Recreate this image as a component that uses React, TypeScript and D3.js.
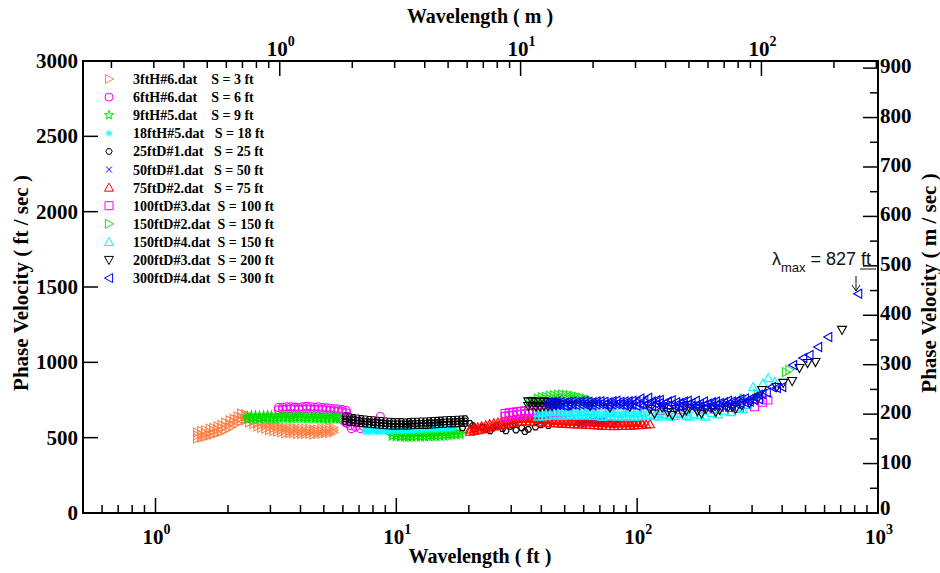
import React from 'react';
import * as d3 from 'd3';

const W = 940;
const H = 573;
const M_PER_FT = 0.3048;
const SERIF = "'Liberation Serif','Times New Roman',serif";
const SANS = "'Liberation Sans',Arial,sans-serif";

// Legend labels (spaces pad the "S = ..." part as in the original)
const seriesLabels = [
  '3ftH#6.dat    S = 3 ft',
  '6ftH#6.dat    S = 6 ft',
  '9ftH#5.dat    S = 9 ft',
  '18ftH#5.dat   S = 18 ft',
  '25ftD#1.dat   S = 25 ft',
  '50ftD#1.dat   S = 50 ft',
  '75ftD#2.dat   S = 75 ft',
  '100ftD#3.dat  S = 100 ft',
  '150ftD#2.dat  S = 150 ft',
  '150ftD#4.dat  S = 150 ft',
  '200ftD#3.dat  S = 200 ft',
  '300ftD#4.dat  S = 300 ft',
];
const seriesColors = ['#ff7f45', '#ff00ff', '#00e000', '#00ffff', '#000000', '#0000ff', '#ff0000', '#ff00ff', '#20e020', '#00ffff', '#000000', '#0000ff'];
const seriesShapes = ['triRight', 'circle', 'star', 'asterisk', 'hexagon', 'cross', 'triUp', 'square', 'triRight', 'triUp', 'triDown', 'triLeft'];

// Each row: [wavelength (ft), phase velocity (ft/s) at that wavelength, ...]
const s3ftH6: number[][] = [
  [1.49, 495, 515, 535], [1.55, 500, 520, 545], [1.61, 505, 530, 550], [1.68, 515, 535, 560], [1.74, 520, 545, 565],
  [1.81, 530, 555, 575], [1.88, 540, 565, 585], [1.95, 550, 575, 600], [2.03, 565, 590, 615], [2.11, 580, 605, 625],
  [2.19, 595, 620, 640], [2.27, 610, 635, 660], [2.36, 615, 640, 655], [2.45, 600, 625, 645], [2.55, 590, 610, 630],
  [2.65, 575, 595, 620], [2.75, 565, 585, 605], [2.86, 560, 580, 595], [2.97, 550, 570, 590], [3.09, 545, 565, 585],
  [3.21, 540, 560, 575], [3.33, 535, 555, 570], [3.46, 530, 550, 565], [3.60, 530, 545, 565], [3.74, 530, 550, 565],
  [3.88, 525, 545, 560], [4.03, 525, 545, 560], [4.19, 525, 540, 560], [4.36, 525, 545, 560], [4.53, 520, 540, 555],
  [4.70, 525, 540, 555], [4.89, 525, 545, 560], [5.08, 530, 545, 560], [5.27, 530, 550, 565], [5.48, 535, 550, 565],
];
const s6ftH6: number[][] = [
  [3.24, 685, 700], [3.37, 688, 702], [3.50, 690, 705], [3.64, 692, 705], [3.78, 690, 703], [3.93, 688, 700],
  [4.08, 690, 705], [4.24, 692, 708], [4.40, 690, 705], [4.57, 688, 702], [4.75, 690, 705], [4.93, 686, 700],
  [5.12, 684, 698], [5.32, 680, 695], [5.53, 678, 692], [5.74, 676, 690], [5.96, 672, 686], [6.2, 665, 680],
  [6.0, 615], [6.14, 600], [6.25, 595], [6.3, 640], [6.44, 580], [6.5, 560], [6.6, 620], [6.76, 570],
  [6.95, 610], [7.09, 560], [7.3, 575], [7.66, 590], [8.18, 600], [8.58, 640],
];
const s9ftH5: number[][] = [
  [2.41, 625, 640], [2.50, 628, 645], [2.60, 630, 645], [2.70, 628, 643], [2.81, 630, 645], [2.92, 632, 647],
  [3.03, 630, 645], [3.15, 628, 643], [3.27, 630, 645], [3.40, 632, 648], [3.53, 630, 645], [3.67, 628, 643],
  [3.81, 630, 646], [3.96, 632, 648], [4.11, 630, 645], [4.27, 628, 643], [4.44, 630, 645], [4.61, 628, 644],
  [4.79, 626, 642], [4.98, 625, 640], [5.17, 624, 638], [5.37, 625, 640], [5.58, 626, 640], [5.80, 624, 638],
  [9.6, 510, 528], [9.97, 508, 525], [10.4, 505, 522], [10.8, 505, 520], [11.2, 503, 520], [11.6, 505, 522],
  [12.1, 507, 525], [12.6, 505, 523], [13.1, 506, 524], [13.6, 508, 526], [14.1, 510, 527], [14.6, 508, 525],
  [15.2, 510, 528], [15.8, 513, 530], [16.4, 515, 532], [17.0, 518, 535], [17.7, 520, 537], [18.4, 522, 538],
];
const s18ftH5: number[][] = [
  [7.4, 540, 555], [7.7, 538, 552], [8.0, 540, 553], [8.3, 538, 552], [8.6, 540, 555], [9.0, 538, 552],
  [9.3, 540, 553], [9.7, 540, 555], [10.1, 542, 556], [10.5, 542, 556], [10.9, 543, 557], [11.3, 545, 558],
  [11.8, 545, 560], [12.3, 548, 562], [12.7, 548, 562], [13.2, 550, 563], [13.7, 550, 565], [14.3, 552, 566],
  [14.8, 553, 567], [15.4, 555, 568], [16.0, 556, 570], [16.7, 558, 572], [17.3, 560, 573],
];
const s25ftD1: number[][] = [
  [6.14, 605, 625, 645], [6.38, 600, 620, 640], [6.62, 598, 618, 635], [6.88, 595, 615, 632], [7.15, 592, 610, 628],
  [7.43, 590, 607, 625], [7.72, 588, 605, 622], [8.02, 585, 602, 620], [8.33, 583, 600, 617], [8.66, 580, 598, 615],
  [9.0, 578, 595, 612], [9.35, 576, 593, 610], [9.71, 575, 592, 608], [10.1, 575, 592, 608], [10.5, 576, 592, 608],
  [10.9, 575, 590, 606], [11.3, 576, 592, 608], [11.7, 578, 594, 610], [12.2, 580, 595, 610], [12.7, 580, 596, 612],
  [13.2, 580, 596, 612], [13.7, 582, 598, 614], [14.2, 583, 598, 615], [14.8, 585, 600, 616], [15.3, 586, 602, 618],
  [15.9, 588, 604, 620], [16.6, 590, 606, 622], [17.2, 590, 606, 622], [17.9, 592, 608, 624], [18.6, 593, 610, 625],
  [19.3, 595, 610, 626],
  [18.8, 565], [20.2, 595], [20.8, 580], [21.2, 560], [22.8, 570], [23.5, 555], [24.5, 545], [25.2, 565],
  [26.0, 580], [27.6, 560], [28.5, 545], [29.7, 575], [30.5, 585], [31.4, 550], [33.2, 565], [34.2, 540],
  [35.3, 555], [37.8, 570], [39.9, 585], [42.8, 580],
];
const s50ftD1: number[][] = [
  [56.5, 595, 610], [58.7, 590, 605], [61.0, 598, 612], [63.4, 595, 608], [65.9, 600, 615], [68.5, 592, 606],
  [71.2, 598, 612], [74.0, 600], [76.9, 605], [80.0, 598], [83.2, 603],
];
const s75ftD2: number[][] = [
  [20.2, 540, 555], [21.0, 545, 560], [21.8, 550, 568], [22.6, 555, 575], [23.5, 560, 582], [24.4, 568, 590],
  [25.4, 575, 595], [26.4, 580, 600], [27.4, 585, 605], [28.5, 590, 612], [29.6, 595, 618], [30.8, 600, 622],
  [32.0, 605, 625], [33.2, 608, 628], [34.5, 610, 630], [35.9, 608, 628], [37.3, 605, 625], [38.7, 603, 622],
  [40.2, 600, 620], [41.8, 600, 618], [43.4, 598, 616], [45.1, 596, 614], [46.9, 595, 612], [48.7, 594, 610],
  [50.6, 592, 610], [52.6, 590, 608], [54.6, 590, 608], [56.8, 588, 606], [59.0, 588, 606], [61.3, 586, 605],
  [63.7, 585, 604], [66.2, 584, 602], [68.8, 582, 600], [71.5, 580, 598], [74.3, 578, 596], [77.2, 578, 596],
  [80.2, 576, 594], [83.3, 578, 596], [86.6, 580, 598], [90.0, 578, 596], [93.5, 580, 597], [97.1, 582, 598],
  [101, 584, 600], [105, 586, 600], [109, 588], [113, 590],
];
const s100ftD3: number[][] = [
  [28.3, 640, 660], [29.4, 645, 665], [30.5, 648, 668], [31.7, 652, 672], [32.9, 655, 675], [34.2, 658, 678],
  [35.5, 660, 680], [36.9, 662, 680], [38.4, 665, 682], [39.9, 668, 684], [41.4, 670], [43.0, 668], [44.7, 670],
  [46.4, 668], [48.2, 666], [50.1, 668], [55.3, 670], [63.7, 680], [77.1, 675], [93.2, 670], [108, 675],
  [124, 680], [150, 685], [182, 690], [210, 690], [242, 700], [266, 695], [287, 720], [307, 705], [331, 735],
  [349, 750],
];
const s150ftD2: number[][] = [
  [35.9, 735], [37.3, 740], [38.7, 745, 760], [40.2, 750, 768], [41.8, 755, 772], [43.4, 758, 778],
  [45.1, 760, 782], [46.9, 762, 785], [48.7, 762, 786], [50.6, 760, 785], [52.6, 758, 782], [54.6, 755, 778],
  [56.8, 750, 772], [59.0, 745, 765], [61.3, 742, 758], [63.7, 738, 752], [66.2, 735],
  [182, 710], [220, 725], [277, 760], [317, 790], [415, 935], [429, 950],
];
const s150ftD4: number[][] = [
  [38.9, 640, 665], [40.4, 642, 668], [42.0, 645, 670], [43.6, 648, 672], [45.3, 650, 675], [47.1, 648, 672],
  [48.9, 646, 670], [50.8, 648, 670], [52.8, 650, 670], [54.8, 648, 668], [57.0, 646, 666], [59.2, 648, 668],
  [61.5, 650, 670], [63.9, 648, 668], [66.4, 645, 665], [69.0, 643, 663], [71.7, 640, 660], [74.5, 642, 662],
  [77.4, 645, 665], [80.4, 643, 663], [83.5, 640, 660], [86.8, 642, 662], [90.2, 645, 665], [93.7, 642, 662],
  [97.3, 640, 660], [101, 642, 662], [105, 645, 665], [109, 648], [113, 650], [118, 645], [122, 640, 660],
  [127, 655], [132, 650], [137, 640], [142, 645], [148, 660], [154, 655], [160, 645], [165, 640], [172, 655],
  [182, 650], [192, 640], [204, 665], [216, 655], [231, 680], [245, 670], [261, 700], [275, 690], [287, 720],
  [303, 836], [320, 780], [333, 860], [350, 896], [373, 870],
];
const s200ftD3: number[][] = [
  [35.3, 710, 740], [36.6, 712, 742], [38.0, 705, 735], [39.5, 705, 738], [41.0, 710, 740], [42.6, 708, 735],
  [44.3, 710, 735], [46.0, 715, 730], [47.8, 720], [52.6, 715], [63.7, 710], [77.1, 700], [93.2, 705],
  [113, 690], [118, 660], [127, 700], [134, 670], [140, 650], [144, 690], [154, 665], [160, 680], [165, 695],
  [178, 675], [185, 660], [193, 690], [204, 700], [212, 670], [220, 685], [238, 700], [248, 705], [256, 690],
  [272, 715], [293, 730], [317, 760], [330, 816], [380, 836], [404, 863], [440, 875], [472, 962], [510, 995],
  [550, 1002], [709, 1215],
];
const s300ftD4: number[][] = [
  [42.8, 715, 735], [44.5, 718, 738], [46.2, 720, 740], [48.0, 715, 735], [49.9, 712, 732], [51.8, 718, 738],
  [53.8, 720, 740], [55.9, 716, 736], [58.1, 720, 740], [60.4, 722, 742], [62.7, 718, 738], [65.2, 715, 735],
  [67.7, 720, 740], [70.3, 722, 742], [73.1, 718, 738], [75.9, 716, 736], [78.9, 720, 742], [82.0, 722, 745],
  [85.2, 718, 738], [88.5, 715, 740], [92.0, 720, 742], [95.5, 718, 745], [99.3, 712, 738], [103, 720, 760],
  [107, 715, 745], [111, 725, 765], [115, 710, 740], [120, 720, 748], [124, 730, 750], [129, 705, 725],
  [134, 710, 740], [139, 720, 748], [145, 705, 735], [150, 705, 730], [156, 715, 740], [162, 720, 745],
  [168, 708, 730], [175, 712, 745], [182, 705, 725], [189, 715, 740], [196, 700, 725], [204, 710, 735],
  [212, 715, 740], [220, 705, 730], [229, 710, 735], [238, 720, 745], [247, 715, 740], [258, 725, 745],
  [268, 730, 755], [280, 735, 760], [293, 740, 755], [305, 750, 770], [320, 755, 785], [331, 790], [345, 800],
  [363, 836], [380, 830], [400, 836], [444, 982], [489, 1029], [519, 1049], [564, 1102], [621, 1168], [827, 1455],
];

const seriesData = [s3ftH6, s6ftH6, s9ftH5, s18ftH5, s25ftD1, s50ftD1, s75ftD2, s100ftD3, s150ftD2, s150ftD4, s200ftD3, s300ftD4];

const yLeftTicks = [0, 500, 1000, 1500, 2000, 2500, 3000];
const yRightTicks = [0, 100, 200, 300, 400, 500, 600, 700, 800, 900];

const starPath = d3.symbol(d3.symbolStar, 26)() as string;

function shapePath(shape: string): string {
  const s = 4.5;
  switch (shape) {
    case 'triRight': return `M${-s * 0.8},${-s} L${s},0 L${-s * 0.8},${s} Z`;
    case 'triLeft': return `M${s * 0.8},${-s} L${-s},0 L${s * 0.8},${s} Z`;
    case 'triUp': return `M0,${-s} L${s},${s * 0.8} L${-s},${s * 0.8} Z`;
    case 'triDown': return `M${-s},${-s * 0.8} L${s},${-s * 0.8} L0,${s} Z`;
    case 'square': return `M-4,-4 H4 V4 H-4 Z`;
    case 'circle': return `M4,0 A4,4 0 1,1 -4,0 A4,4 0 1,1 4,0 Z`;
    case 'cross': return `M-3,-3 L3,3 M-3,3 L3,-3`;
    case 'asterisk': return `M-3.5,0 H3.5 M0,-3.5 V3.5 M-2.5,-2.5 L2.5,2.5 M-2.5,2.5 L2.5,-2.5`;
    case 'hexagon': {
      const r = 3.2;
      const pts = d3.range(6).map((i) => {
        const a = (Math.PI / 3) * i;
        return `${(r * Math.cos(a)).toFixed(2)},${(r * Math.sin(a)).toFixed(2)}`;
      });
      return `M${pts.join(' L')} Z`;
    }
    case 'star': return starPath;
    default: return '';
  }
}

function isMajor(t: number) {
  const l = Math.log10(t);
  return Math.abs(l - Math.round(l)) < 1e-6;
}

function flatten(rows: number[][]): [number, number][] {
  return rows.flatMap(([wl, ...vs]) => vs.map((v) => [wl, v] as [number, number]));
}

export default function App() {
  const left = 83, right = 878, top = 61, bottom = 513;
  const x = d3.scaleLog().domain([0.5, 1000]).range([left, right]);
  const xTop = d3.scaleLog().domain([0.5 * M_PER_FT, 1000 * M_PER_FT]).range([left, right]);
  const y = d3.scaleLinear().domain([0, 3000]).range([bottom, top]);
  const yR = d3.scaleLinear().domain([0, 3000 * M_PER_FT]).range([bottom, top]);

  const xTicks = x.ticks().filter((t) => t > 0.5 + 1e-9);
  const xTopTicks = xTop.ticks().filter((t) => t > 0.5 * M_PER_FT + 1e-9);
  const yRminor = d3.range(0, 901, 50);

  const legendY0 = 79;
  const legendDy = 18.1;

  return (
    <svg width={W} height={H} style={{ position: 'absolute', left: 0, top: 0, background: '#fff' }}>
      <rect x={0} y={0} width={W} height={H} fill="#fff" />

      {/* data */}
      {seriesData.map((rows, si) => (
        <g key={si} stroke={seriesColors[si]} fill="none" strokeWidth={1.1}>
          {flatten(rows).map(([wl, v], i) => (
            <path key={i} transform={`translate(${x(wl).toFixed(2)},${y(v).toFixed(2)})`} d={shapePath(seriesShapes[si])} />
          ))}
        </g>
      ))}

      {/* frame */}
      <rect x={left} y={top} width={right - left} height={bottom - top} fill="none" stroke="#000" strokeWidth={2} />

      {/* bottom axis ticks */}
      {xTicks.map((t, i) => {
        const px = x(t);
        const len = isMajor(t) ? 15 : 8;
        return <line key={`bx${i}`} x1={px} x2={px} y1={bottom} y2={bottom - len} stroke="#000" strokeWidth={1.5} />;
      })}
      {xTicks.filter(isMajor).map((t, i) => (
        <text key={`bl${i}`} x={x(t) + 1} y={544} textAnchor="middle" fontFamily={SERIF} fontWeight="bold" fontSize={21}>
          10<tspan dy={-10} fontSize={14}>{Math.round(Math.log10(t))}</tspan>
        </text>
      ))}

      {/* top axis ticks */}
      {xTopTicks.map((t, i) => {
        const px = xTop(t);
        const len = isMajor(t) ? 15 : 7;
        return <line key={`tx${i}`} x1={px} x2={px} y1={top} y2={top + len} stroke="#000" strokeWidth={1.5} />;
      })}
      {xTopTicks.filter(isMajor).map((t, i) => (
        <text key={`tl${i}`} x={xTop(t) + 1} y={56} textAnchor="middle" fontFamily={SERIF} fontWeight="bold" fontSize={21}>
          10<tspan dy={-10} fontSize={14}>{Math.round(Math.log10(t))}</tspan>
        </text>
      ))}

      {/* left axis */}
      {yLeftTicks.map((t, i) => (
        <g key={`ly${i}`}>
          <line x1={left} x2={left + 15} y1={y(t)} y2={y(t)} stroke="#000" strokeWidth={1.5} />
          <text x={78} y={y(t) + 7} textAnchor="end" fontFamily={SERIF} fontWeight="bold" fontSize={21}>{t}</text>
        </g>
      ))}

      {/* right axis */}
      {yRminor.map((t, i) => (
        <line key={`rm${i}`} x1={right} x2={right - (t % 100 === 0 ? 15 : 8)} y1={yR(t)} y2={yR(t)} stroke="#000" strokeWidth={1.5} />
      ))}
      {yRightTicks.map((t, i) => (
        <text key={`ry${i}`} x={880} y={yR(t) + (t === 0 ? 2 : 5)} textAnchor="start" fontFamily={SERIF} fontWeight="bold" fontSize={21}>{t}</text>
      ))}

      {/* axis titles */}
      <text x={480} y={23} textAnchor="middle" fontFamily={SERIF} fontWeight="bold" fontSize={20}>Wavelength ( m )</text>
      <text x={480} y={563} textAnchor="middle" fontFamily={SERIF} fontWeight="bold" fontSize={20}>Wavelength ( ft )</text>
      <text transform="translate(28,283) rotate(-90)" textAnchor="middle" fontFamily={SERIF} fontWeight="bold" fontSize={21}>Phase Velocity ( ft / sec )</text>
      <text transform="translate(936,283) rotate(-90)" textAnchor="middle" fontFamily={SERIF} fontWeight="bold" fontSize={21}>Phase Velocity ( m / sec )</text>

      {/* legend */}
      {seriesLabels.map((lab, i) => {
        const ly = legendY0 + i * legendDy;
        return (
          <g key={`lg${i}`}>
            <path transform={`translate(109,${ly})`} d={shapePath(seriesShapes[i])} fill="none" stroke={seriesColors[i]} strokeWidth={1} />
            <text x={133} y={ly + 5} fontFamily={SERIF} fontWeight="bold" fontSize={14}>{lab.replace(/ /g, '\u00a0')}</text>
          </g>
        );
      })}

      {/* annotation */}
      <text x={772} y={265} fontFamily={SANS} fontSize={18} fill="#111">
        λ<tspan fontSize={13} dy={7}>max</tspan><tspan dy={-7}>{'\u00a0= 827 ft'}</tspan>
      </text>
      <line x1={860} x2={876} y1={269} y2={269} stroke="#111" strokeWidth={1} />
      <line x1={856} x2={856} y1={276} y2={291} stroke="#111" strokeWidth={1} />
      <path d="M852,285 L856,291 L860,285" fill="none" stroke="#111" strokeWidth={1} />
    </svg>
  );
}
